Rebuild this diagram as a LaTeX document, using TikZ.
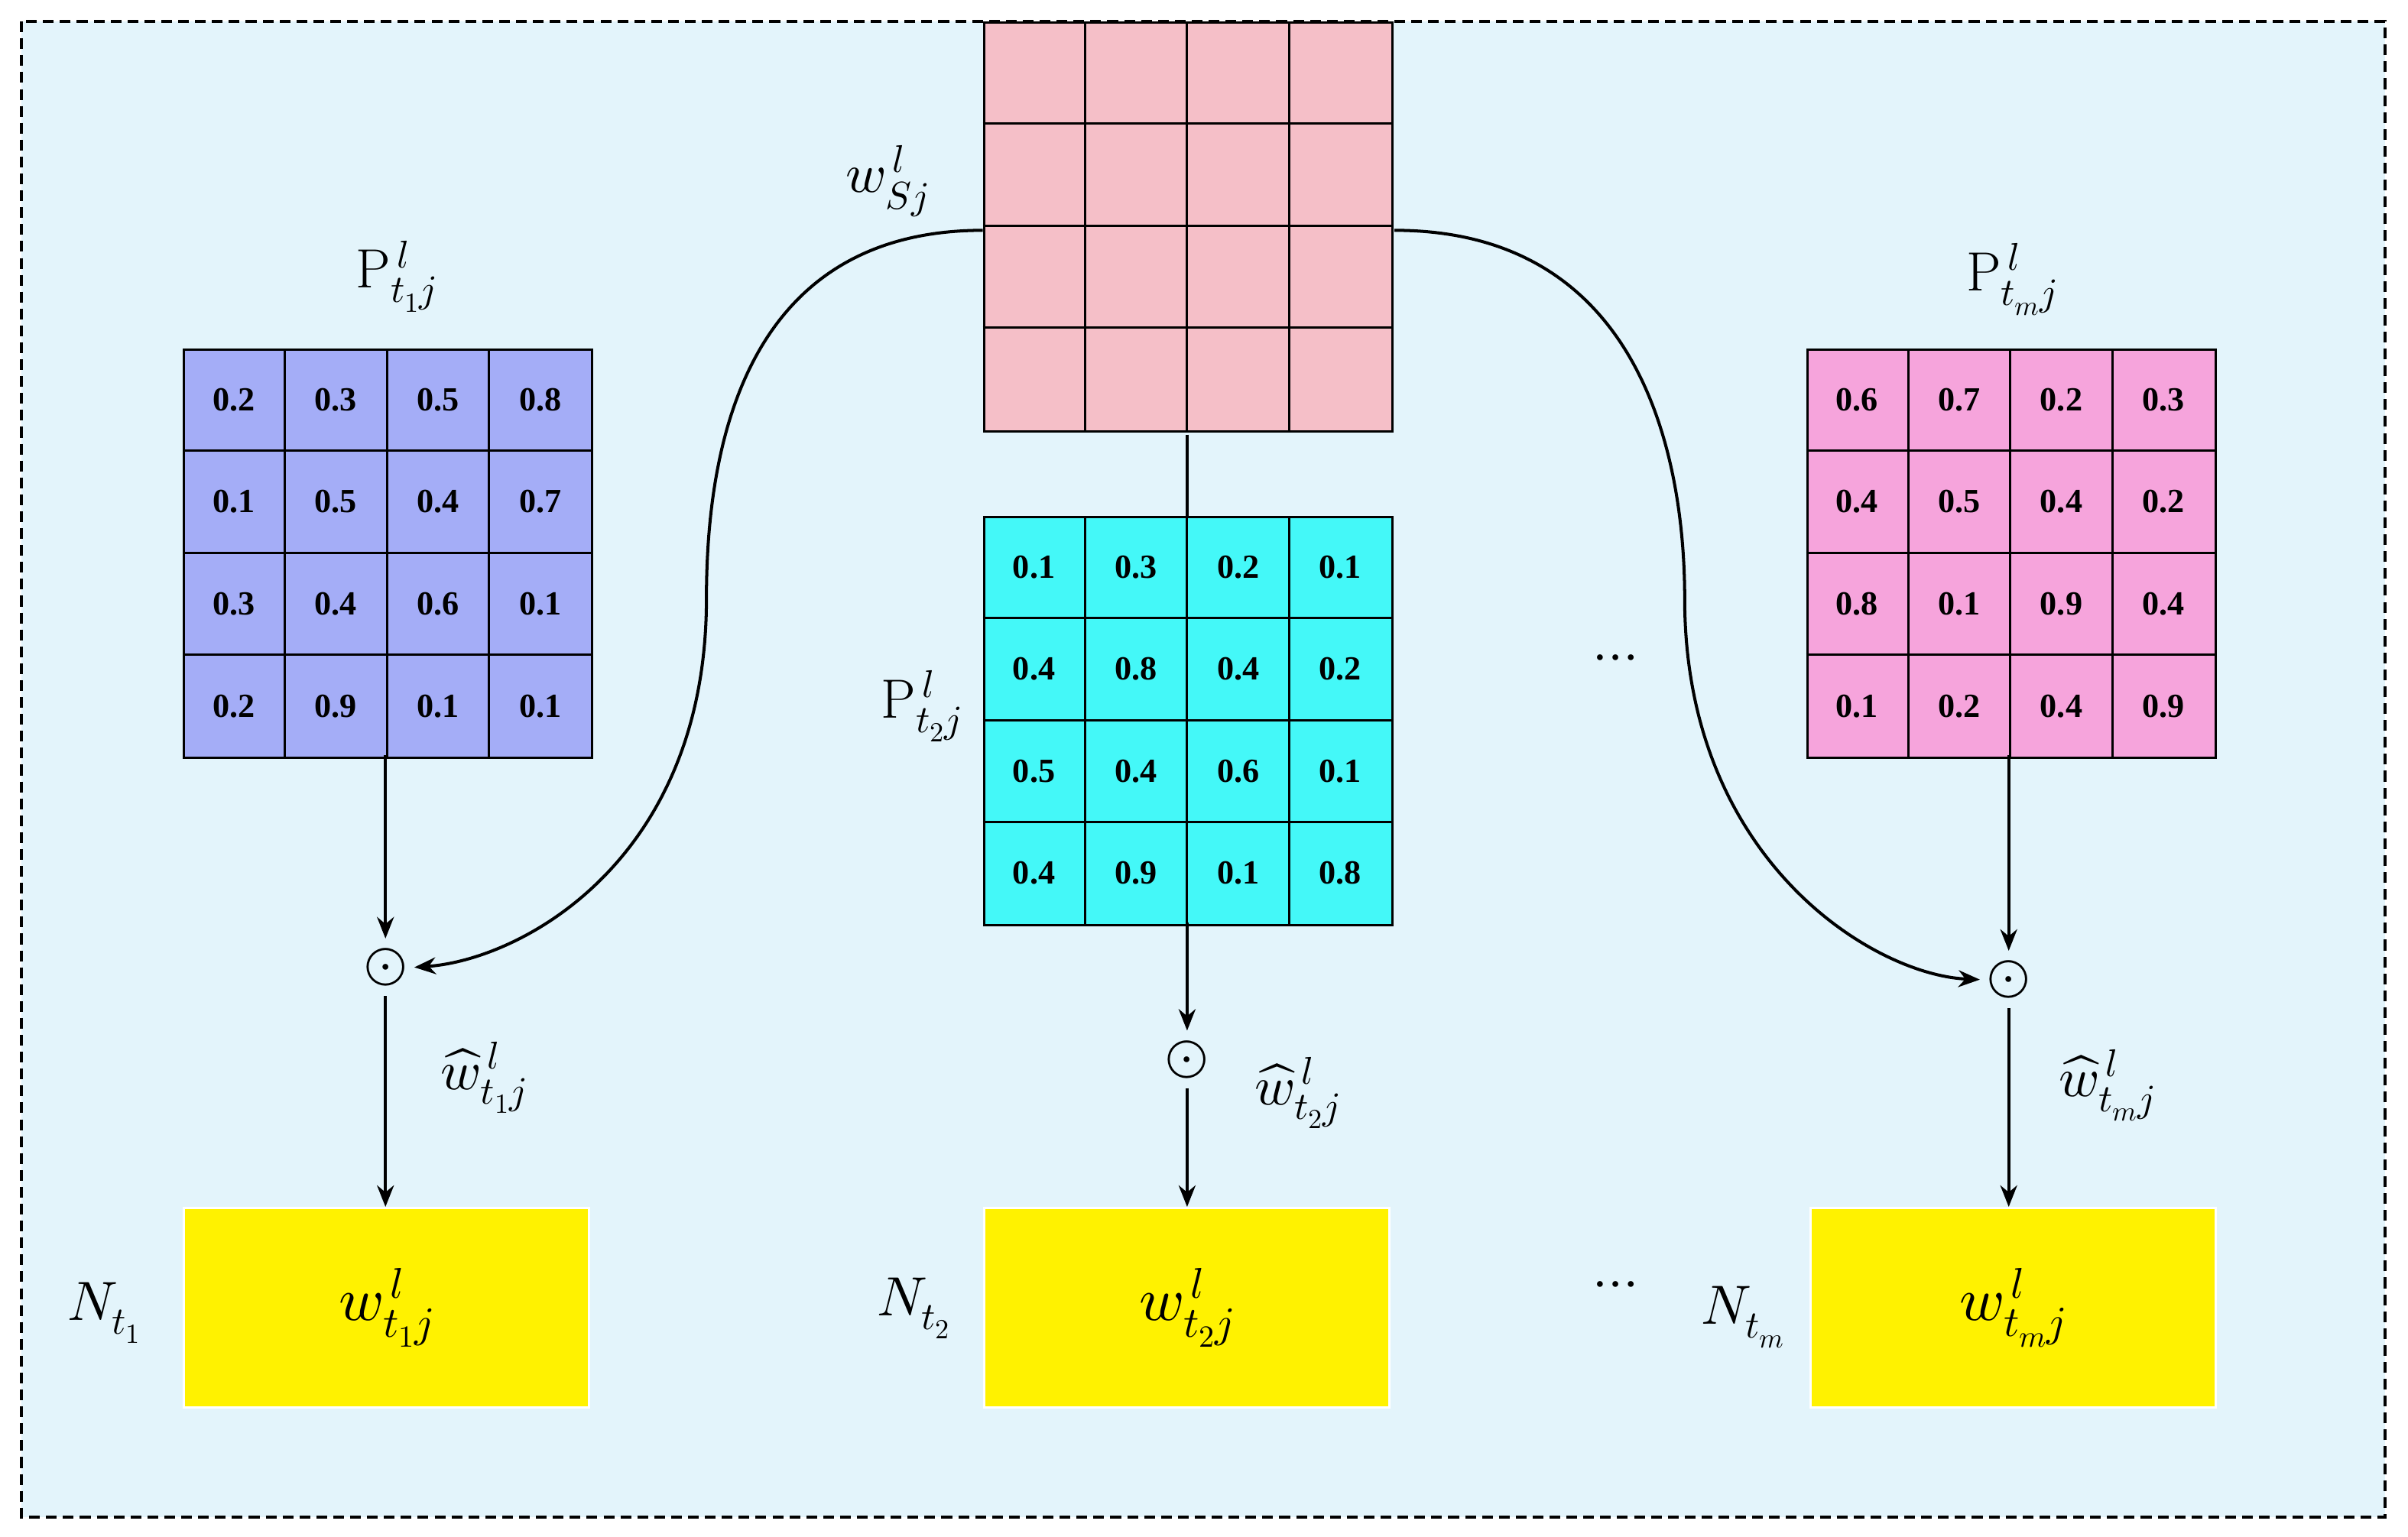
\documentclass[tikz,border=0pt]{standalone}
\usepackage{unicode-math}
\setmathfont{Latin Modern Math}
\newfontfamily\numfont{Liberation Serif}
\usetikzlibrary{arrows.meta,calc}
\definecolor{bgc}{HTML}{E3F4FB}
\definecolor{pinkA}{HTML}{F5BFC8}
\definecolor{blueA}{HTML}{A4ADF7}
\definecolor{cyanA}{HTML}{44F8F8}
\definecolor{magA}{HTML}{F6A4DC}
\tikzset{
 grid/.style={draw,line width=1.5pt,minimum width=266pt,minimum height=266pt,inner sep=0pt,anchor=north west},
 num/.style={font=\numfont\bfseries\fontsize{22}{22}\selectfont},
 ybox/.style={fill=yellow,draw=white,line width=1.5pt,minimum width=264pt,minimum height=130pt,anchor=north west,font=\fontsize{40}{40}\selectfont},
 lab/.style={font=\fontsize{36}{36}\selectfont},
 od/.style={circle,inner sep=0pt,minimum size=28pt,font=\fontsize{36}{36}\selectfont},
 arr/.style={line width=2pt,-{Stealth[length=14pt,width=11pt]}},
}
\newcommand\mygrid[5]{%
 \node[grid,fill=#4] (#1) at (#2,#3) {};
 \foreach \k in {1,2,3}{
  \draw[line width=1.5pt] ($(#1.north west)+(\k*66.5,0)$) -- ($(#1.south west)+(\k*66.5,0)$);
  \draw[line width=1.5pt] ($(#1.north west)+(0,\k*66.5)$) -- ($(#1.north east)+(0,\k*66.5)$);
 }
 \foreach \v [count=\i from 0] in {#5}{
  \pgfmathtruncatemacro\c{mod(\i,4)}\pgfmathtruncatemacro\r{int(\i/4)}
  \node[num] at ($(#1.north west)+(\c*66.5+33.25,\r*66.5+33.25)$) {\v};
 }}
\begin{document}
\begin{tikzpicture}[x=1pt,y=-1pt]
\useasboundingbox (0,0) rectangle (1568,1001);
\draw[dash pattern=on 7pt off 4pt,line width=1.8pt,fill=bgc] (14,14) rectangle (1553,988);
\mygrid{ws}{640}{14}{pinkA}{{},{},{},{},{},{},{},{},{},{},{},{},{},{},{},{}}
\mygrid{g1}{119}{227}{blueA}{0.2,0.3,0.5,0.8,0.1,0.5,0.4,0.7,0.3,0.4,0.6,0.1,0.2,0.9,0.1,0.1}
\mygrid{g2}{640}{336}{cyanA}{0.1,0.3,0.2,0.1,0.4,0.8,0.4,0.2,0.5,0.4,0.6,0.1,0.4,0.9,0.1,0.8}
\mygrid{g3}{1176}{227}{magA}{0.6,0.7,0.2,0.3,0.4,0.5,0.4,0.2,0.8,0.1,0.9,0.4,0.1,0.2,0.4,0.9}
\node[ybox] (y1) at (119,786) {$w^{\,l}_{t_1j}$};
\node[ybox] (y2) at (640,786) {$w^{\,l}_{t_2j}$};
\node[ybox] (y3) at (1178,786) {$w^{\,l}_{t_mj}$};
\node[od] (o1) at (251,630) {$\odot$};
\node[od] (o2) at (773,690) {$\odot$};
\node[od] (o3) at (1308,638) {$\odot$};
\node[lab] (lws) at (578,118) {$w^{\,l}_{Sj}$};
\node[lab] (lp1) at (258,180) {$\mathrm{P}^{\,l}_{t_1j}$};
\node[lab] (lp2) at (600,460) {$\mathrm{P}^{\,l}_{t_2j}$};
\node[lab] (lp3) at (1310,182) {$\mathrm{P}^{\,l}_{t_mj}$};
\node[lab] (n1) at (68,855) {$N_{t_1}$};
\node[lab] (n2) at (595,852) {$N_{t_2}$};
\node[lab] (n3) at (1135,858) {$N_{t_m}$};
\node[lab] (d1) at (1052,432) {$\cdots$};
\node[lab] (d2) at (1052,840) {$\cdots$};
\node[lab] (h1) at (315,702) {$\widehat{w}^{\,l}_{t_1j}$};
\node[lab] (h2) at (845,712) {$\widehat{w}^{\,l}_{t_2j}$};
\node[lab] (h3) at (1372,707) {$\widehat{w}^{\,l}_{t_mj}$};
\draw[arr] (251,492) -- (o1.north);
\draw[arr] (o1.south) -- (y1.north -| o1);
\draw[line width=2pt] (773,283) -- (773,336);
\draw[arr] (773,601) -- (o2.north);
\draw[arr] (o2.south) -- (y2.north -| o2);
\draw[arr] (1308,492) -- (o3.north);
\draw[arr] (o3.south) -- (y3.north -| o3);
\draw[arr] (640,150) .. controls (480,150) and (460,300) .. (460,390) .. controls (460,560) and (340,625) .. (o1.east);
\draw[arr] (908,150) .. controls (1070,150) and (1097,300) .. (1097,390) .. controls (1097,560) and (1220,635) .. (o3.west);
\end{tikzpicture}
\end{document}
